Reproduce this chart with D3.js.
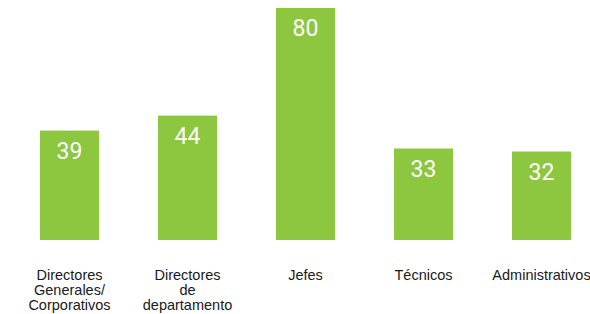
<!DOCTYPE html>
<html>
<head>
<meta charset="utf-8">
<script src="https://cdn.jsdelivr.net/npm/d3@7"></script>
<style>
  body { margin: 0; background: #fff; }
  svg { display: block; }
</style>
</head>
<body>
<div id="chart"></div>
<script>
'use strict';

var categories = [
  ['Directores', 'Generales/', 'Corporativos'],
  ['Directores', 'de', 'departamento'],
  ['Jefes'],
  ['Técnicos'],
  ['Administrativos']
];
var values = [39, 44, 80, 33, 32];

var width = 590, height = 314;
var baseY = 240, topY = 8;

var svg = d3.select('#chart')
            .append('svg')
            .attr('width', width)
            .attr('height', height);

var x = d3.scaleBand()
          .domain(d3.range(values.length))
          .range([10.5, 600.5])
          .paddingInner(0.5)
          .paddingOuter(0.25);

var y = d3.scaleLinear()
          .domain([2.4, 80])
          .range([baseY, topY]);

// bars
svg.selectAll('rect.bar')
   .data(values)
   .enter()
   .append('rect')
   .attr('class', 'bar')
   .attr('x', function(d, i) { return x(i); })
   .attr('y', function(d) { return y(d); })
   .attr('width', x.bandwidth())
   .attr('height', function(d) { return baseY - y(d); })
   .attr('fill', '#8dc63f');

// value labels
svg.selectAll('text.value')
   .data(values)
   .enter()
   .append('text')
   .attr('class', 'value')
   .attr('x', function(d, i) { return x(i) + x.bandwidth() / 2; })
   .attr('y', function(d) { return y(d) + 28; })
   .attr('text-anchor', 'middle')
   .attr('fill', '#fff')
   .style('font-family', 'Roboto, "Liberation Sans", sans-serif')
   .style('font-size', '23px')
   .text(function(d) { return d; });

// category labels
var labels = svg.selectAll('text.cat')
   .data(categories)
   .enter()
   .append('text')
   .attr('class', 'cat')
   .attr('text-anchor', 'middle')
   .attr('fill', '#1a1a1a')
   .style('font-family', '"Liberation Sans", Arial, sans-serif')
   .style('font-size', '14.5px');

labels.selectAll('tspan')
   .data(function(d, i) { return d.map(function(t) { return { t: t, i: i }; }); })
   .enter()
   .append('tspan')
   .attr('x', function(d) { return x(d.i) + x.bandwidth() / 2; })
   .attr('y', function(d, j) { return 280 + j * 15; })
   .text(function(d) { return d.t; });
</script>
</body>
</html>
